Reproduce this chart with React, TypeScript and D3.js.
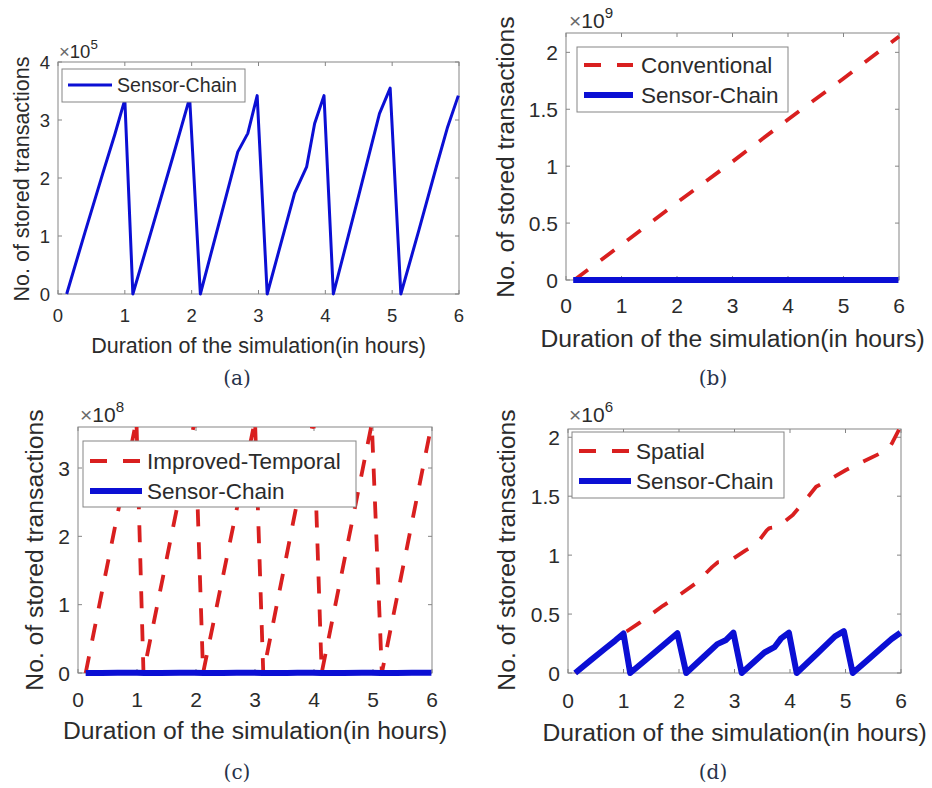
import React from "react";
import * as d3 from "d3";

// hours of simulation (x) and stored transaction counts (y)
const sensorHours = [0.13, 0.4, 0.67, 0.85, 1.0, 1.12, 1.4, 1.72, 1.97, 2.13, 2.45, 2.69, 2.84, 2.98, 3.13, 3.54, 3.72, 3.84, 3.98, 4.12, 4.5, 4.81, 4.97, 5.13, 5.4, 5.66, 5.83, 5.99];
const sensorChain = [0, 1.05e5, 2.08e5, 2.75e5, 3.35e5, 0, 1.1e5, 2.37e5, 3.38e5, 0, 1.4e5, 2.45e5, 2.77e5, 3.42e5, 0, 1.74e5, 2.19e5, 2.94e5, 3.42e5, 0, 1.7e5, 3.11e5, 3.55e5, 0, 1.1e5, 2.19e5, 2.88e5, 3.42e5];

const conventionalHours = [0.15, 1, 2, 3, 4, 5, 6];
const conventional = [0, 0.31e9, 0.68e9, 1.04e9, 1.41e9, 1.77e9, 2.14e9];

const temporalHours = [0.13, 0.99, 1.11, 1.98, 2.12, 3.0, 3.14, 3.99, 4.13, 4.98, 5.15, 5.97];
const improvedTemporal = [0, 3.7e8, 0, 3.7e8, 0, 3.7e8, 0, 3.7e8, 0, 3.65e8, 0, 3.54e8];

const spatialHours = [0.13, 0.4, 0.67, 0.85, 1.0, 1.3, 1.71, 2.0, 2.3, 2.6, 2.7, 2.91, 3.2, 3.39, 3.58, 3.63, 3.78, 4.05, 4.3, 4.47, 4.71, 5.0, 5.3, 5.61, 5.79, 5.85, 5.97];
const spatial = [0, 1.05e5, 2.08e5, 2.75e5, 3.35e5, 4.3e5, 5.7e5, 6.6e5, 7.6e5, 9.0e5, 9.4e5, 9.5e5, 10.4e5, 10.9e5, 12.1e5, 12.3e5, 12.4e5, 13.4e5, 14.8e5, 15.8e5, 16.4e5, 17.2e5, 17.9e5, 18.6e5, 19.1e5, 19.6e5, 20.7e5];

const xTicks = [0, 1, 2, 3, 4, 5, 6];
const xLabel = "Duration of the simulation(in hours)";
const yLabel = "No. of stored transactions";

const BLUE = "#0b0fd4";
const RED = "#d91f1f";
const AXIS = "#858585";
const TEXT = "#2b2b2b";
const FONT = "'Liberation Sans', Arial, Helvetica, sans-serif";

type Series = { name: string; xs: number[]; ys: number[]; color: string; width: number; dash?: string };

type PanelProps = {
  id: string;
  box: { left: number; right: number; top: number; bottom: number };
  yMax: number;
  yTicks: number[];
  exponent: number;
  series: Series[];
  tickFont: number;
  labelFont: number;
  legendFont: number;
  xTickY: number;
  xLabelY: number;
  yLabelX: number;
  yLabelY: number;
  expPos: [number, number];
  caption: string;
  captionPos: [number, number];
  legend: { left: number; right: number; top: number; bottom: number; rows: number[]; lineX: [number, number]; textX: number };
};

function Panel(p: PanelProps) {
  const { box } = p;
  const x = d3.scaleLinear().domain([0, 6]).range([box.left, box.right]);
  const y = d3.scaleLinear().domain([0, p.yMax]).range([box.bottom, box.top]);
  const factor = Math.pow(10, p.exponent);
  const tl = 4;
  const xLabelX = (box.left + box.right) / 2;
  // lines are clipped at the top limit only; the stroke may spill over the other edges
  const pad = 6;
  return (
    <g fontFamily={FONT}>
      <defs>
        <clipPath id={`clip-${p.id}`}>
          <rect x={box.left - pad} y={box.top} width={box.right - box.left + 2 * pad} height={box.bottom - box.top + pad} />
        </clipPath>
      </defs>
      {xTicks.map((t) => (
        <g key={`x${t}`}>
          <line x1={x(t)} x2={x(t)} y1={box.bottom} y2={box.bottom - tl} stroke={AXIS} />
          <line x1={x(t)} x2={x(t)} y1={box.top} y2={box.top + tl} stroke={AXIS} />
          <text x={x(t)} y={p.xTickY} textAnchor="middle" fontSize={p.tickFont} fill={TEXT}>{t}</text>
        </g>
      ))}
      {p.yTicks.map((t) => (
        <g key={`y${t}`}>
          <line x1={box.left} x2={box.left + tl} y1={y(t * factor)} y2={y(t * factor)} stroke={AXIS} />
          <line x1={box.right} x2={box.right - tl} y1={y(t * factor)} y2={y(t * factor)} stroke={AXIS} />
          <text x={box.left - 8} y={y(t * factor)} dy="0.36em" textAnchor="end" fontSize={p.tickFont} fill={TEXT}>{t}</text>
        </g>
      ))}
      <rect x={box.left} y={box.top} width={box.right - box.left} height={box.bottom - box.top} fill="none" stroke={AXIS} strokeWidth={1} />
      <g clipPath={`url(#clip-${p.id})`}>
        {p.series.map((s) => {
          const line = d3.line<number>().x((_, i) => x(s.xs[i])).y((v) => y(v));
          return (
            <path key={s.name} d={line(s.ys) || ""} fill="none" stroke={s.color} strokeWidth={s.width}
              strokeDasharray={s.dash} strokeLinejoin="round" />
          );
        })}
      </g>
      <text x={p.expPos[0]} y={p.expPos[1]} fontSize={p.tickFont} fill={TEXT}>
        <tspan fill="#6a6a6a">×</tspan>10<tspan dy={-p.tickFont * 0.5} fontSize={p.tickFont * 0.72}>{p.exponent}</tspan>
      </text>
      {/* legend */}
      <rect x={p.legend.left} y={p.legend.top} width={p.legend.right - p.legend.left} height={p.legend.bottom - p.legend.top}
        fill="#fff" stroke={AXIS} strokeWidth={1} />
      {p.series.map((s, i) => (
        <g key={`lg${s.name}`}>
          <line x1={p.legend.lineX[0]} x2={p.legend.lineX[1]} y1={p.legend.rows[i]} y2={p.legend.rows[i]}
            stroke={s.color} strokeWidth={s.width} strokeDasharray={s.dash} />
          <text x={p.legend.textX} y={p.legend.rows[i]} dy="0.36em" fontSize={p.legendFont} fill={TEXT}>{s.name}</text>
        </g>
      ))}
      <text x={xLabelX} y={p.xLabelY} textAnchor="middle" fontSize={p.labelFont} fill={TEXT}>{xLabel}</text>
      <text transform={`translate(${p.yLabelX},${p.yLabelY}) rotate(-90)`} textAnchor="middle" fontSize={p.labelFont} fill={TEXT}>{yLabel}</text>
      <text x={p.captionPos[0]} y={p.captionPos[1]} textAnchor="middle" fontSize={20}
        fontFamily="'DejaVu Serif', 'Liberation Serif', serif" fill="#27324a">{p.caption}</text>
    </g>
  );
}

export default function App() {
  const sensorThin: Series = { name: "Sensor-Chain", xs: sensorHours, ys: sensorChain, color: BLUE, width: 3 };
  const sensorThick: Series = { ...sensorThin, width: 6 };
  const dash = "17,16";
  return (
    <svg width={932} height={788} style={{ position: "absolute", left: 0, top: 0, background: "#fff" }}>
      <Panel id="a" box={{ left: 58, right: 459, top: 62, bottom: 294 }} yMax={4e5} yTicks={[0, 1, 2, 3, 4]} exponent={5}
        series={[sensorThin]} tickFont={18.5} labelFont={21.5} legendFont={19.6}
        xTickY={322} xLabelY={353} yLabelX={29} yLabelY={179} expPos={[59, 58]}
        caption="(a)" captionPos={[237, 385]}
        legend={{ left: 62, right: 245, top: 69, bottom: 102, rows: [85], lineX: [68, 112], textX: 117 }} />
      <Panel id="b" box={{ left: 566, right: 899, top: 33, bottom: 280 }} yMax={2.17e9} yTicks={[0, 0.5, 1, 1.5, 2]} exponent={9}
        series={[{ name: "Conventional", xs: conventionalHours, ys: conventional, color: RED, width: 3.8, dash }, sensorThick]}
        tickFont={21} labelFont={24.7} legendFont={22.5}
        xTickY={313} xLabelY={347} yLabelX={514} yLabelY={157} expPos={[569, 28]}
        caption="(b)" captionPos={[713, 385]}
        legend={{ left: 577, right: 788, top: 47, bottom: 112, rows: [65, 95], lineX: [584, 633], textX: 641 }} />
      <Panel id="c" box={{ left: 78, right: 432, top: 427, bottom: 673 }} yMax={3.6e8} yTicks={[0, 1, 2, 3]} exponent={8}
        series={[{ name: "Improved-Temporal", xs: temporalHours, ys: improvedTemporal, color: RED, width: 3.8, dash }, sensorThick]}
        tickFont={21} labelFont={24.7} legendFont={22.5}
        xTickY={707} xLabelY={739} yLabelX={43} yLabelY={550} expPos={[80, 422]}
        caption="(c)" captionPos={[237, 779]}
        legend={{ left: 83, right: 356, top: 441, bottom: 507, rows: [461, 491], lineX: [90, 142], textX: 147 }} />
      <Panel id="d" box={{ left: 568, right: 901, top: 429, bottom: 673 }} yMax={2.07e6} yTicks={[0, 0.5, 1, 1.5, 2]} exponent={6}
        series={[{ name: "Spatial", xs: spatialHours, ys: spatial, color: RED, width: 3.8, dash }, sensorThick]}
        tickFont={21} labelFont={24.7} legendFont={22.5}
        xTickY={708} xLabelY={741} yLabelX={515} yLabelY={550} expPos={[569, 422]}
        caption="(d)" captionPos={[713, 779]}
        legend={{ left: 572, right: 784, top: 432, bottom: 498, rows: [451, 481], lineX: [579, 631], textX: 636 }} />
    </svg>
  );
}
